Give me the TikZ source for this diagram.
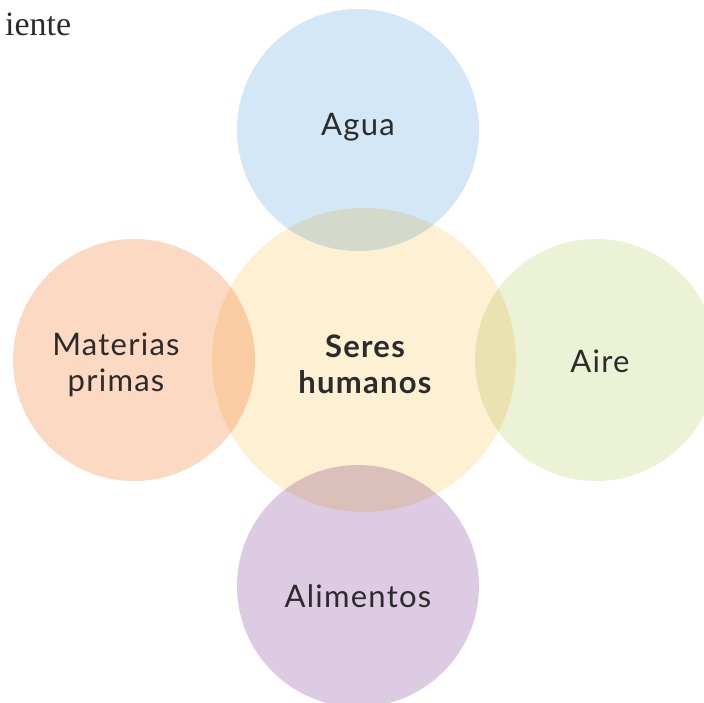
\documentclass[tikz,border=0pt]{standalone}
\usepackage{fontspec}
\setmainfont{Lato}[LetterSpace=4]
\newfontfamily\serifhead{Liberation Serif}
\definecolor{cblue}{HTML}{D4E7F6}
\definecolor{corange}{HTML}{FCD9C3}
\definecolor{cyellow}{HTML}{FEF0D3}
\definecolor{cgreen}{HTML}{EBF2D6}
\definecolor{cpurple}{HTML}{DCCBE3}
\definecolor{ctext}{HTML}{2B2B2B}
\tikzset{
  bubble/.style={circle, draw=none, minimum size=242pt, inner sep=0pt},
  lbl/.style={text=ctext, font=\fontsize{31}{36}\selectfont, align=center, inner sep=0pt},
  clbl/.style={text=ctext, font=\fontsize{31}{36}\selectfont\bfseries, align=center, inner sep=0pt}
}
\begin{document}
\begin{tikzpicture}[x=1pt,y=-1pt]
\useasboundingbox (0,0) rectangle (704,703);
\begin{scope}[blend group=multiply]
  \node[bubble, fill=cyellow, minimum size=304pt] (center) at (364,360) {};
  \node[bubble, fill=cblue] (top) at (358,130) {};
  \node[bubble, fill=corange] (left) at (134,360) {};
  \node[bubble, fill=cgreen] (right) at (596,360) {};
  \node[bubble, fill=cpurple] (bottom) at (358,586) {};
\end{scope}
\node[lbl, anchor=base] (tagua) at (358,136) {Agua};
\node[lbl, anchor=base] (tmat) at (116,391) {Materias\\primas};
\node[lbl, anchor=base] (taire) at (600,372) {Aire};
\node[lbl, anchor=base] (talim) at (358,607) {Alimentos};
\node[clbl, anchor=base] (tser) at (365,393) {Seres\\humanos};
\node[anchor=base west, inner sep=0pt, text=ctext, font=\serifhead\fontsize{34}{40}\selectfont] (head) at (5,36) {iente};
\end{tikzpicture}
\end{document}
